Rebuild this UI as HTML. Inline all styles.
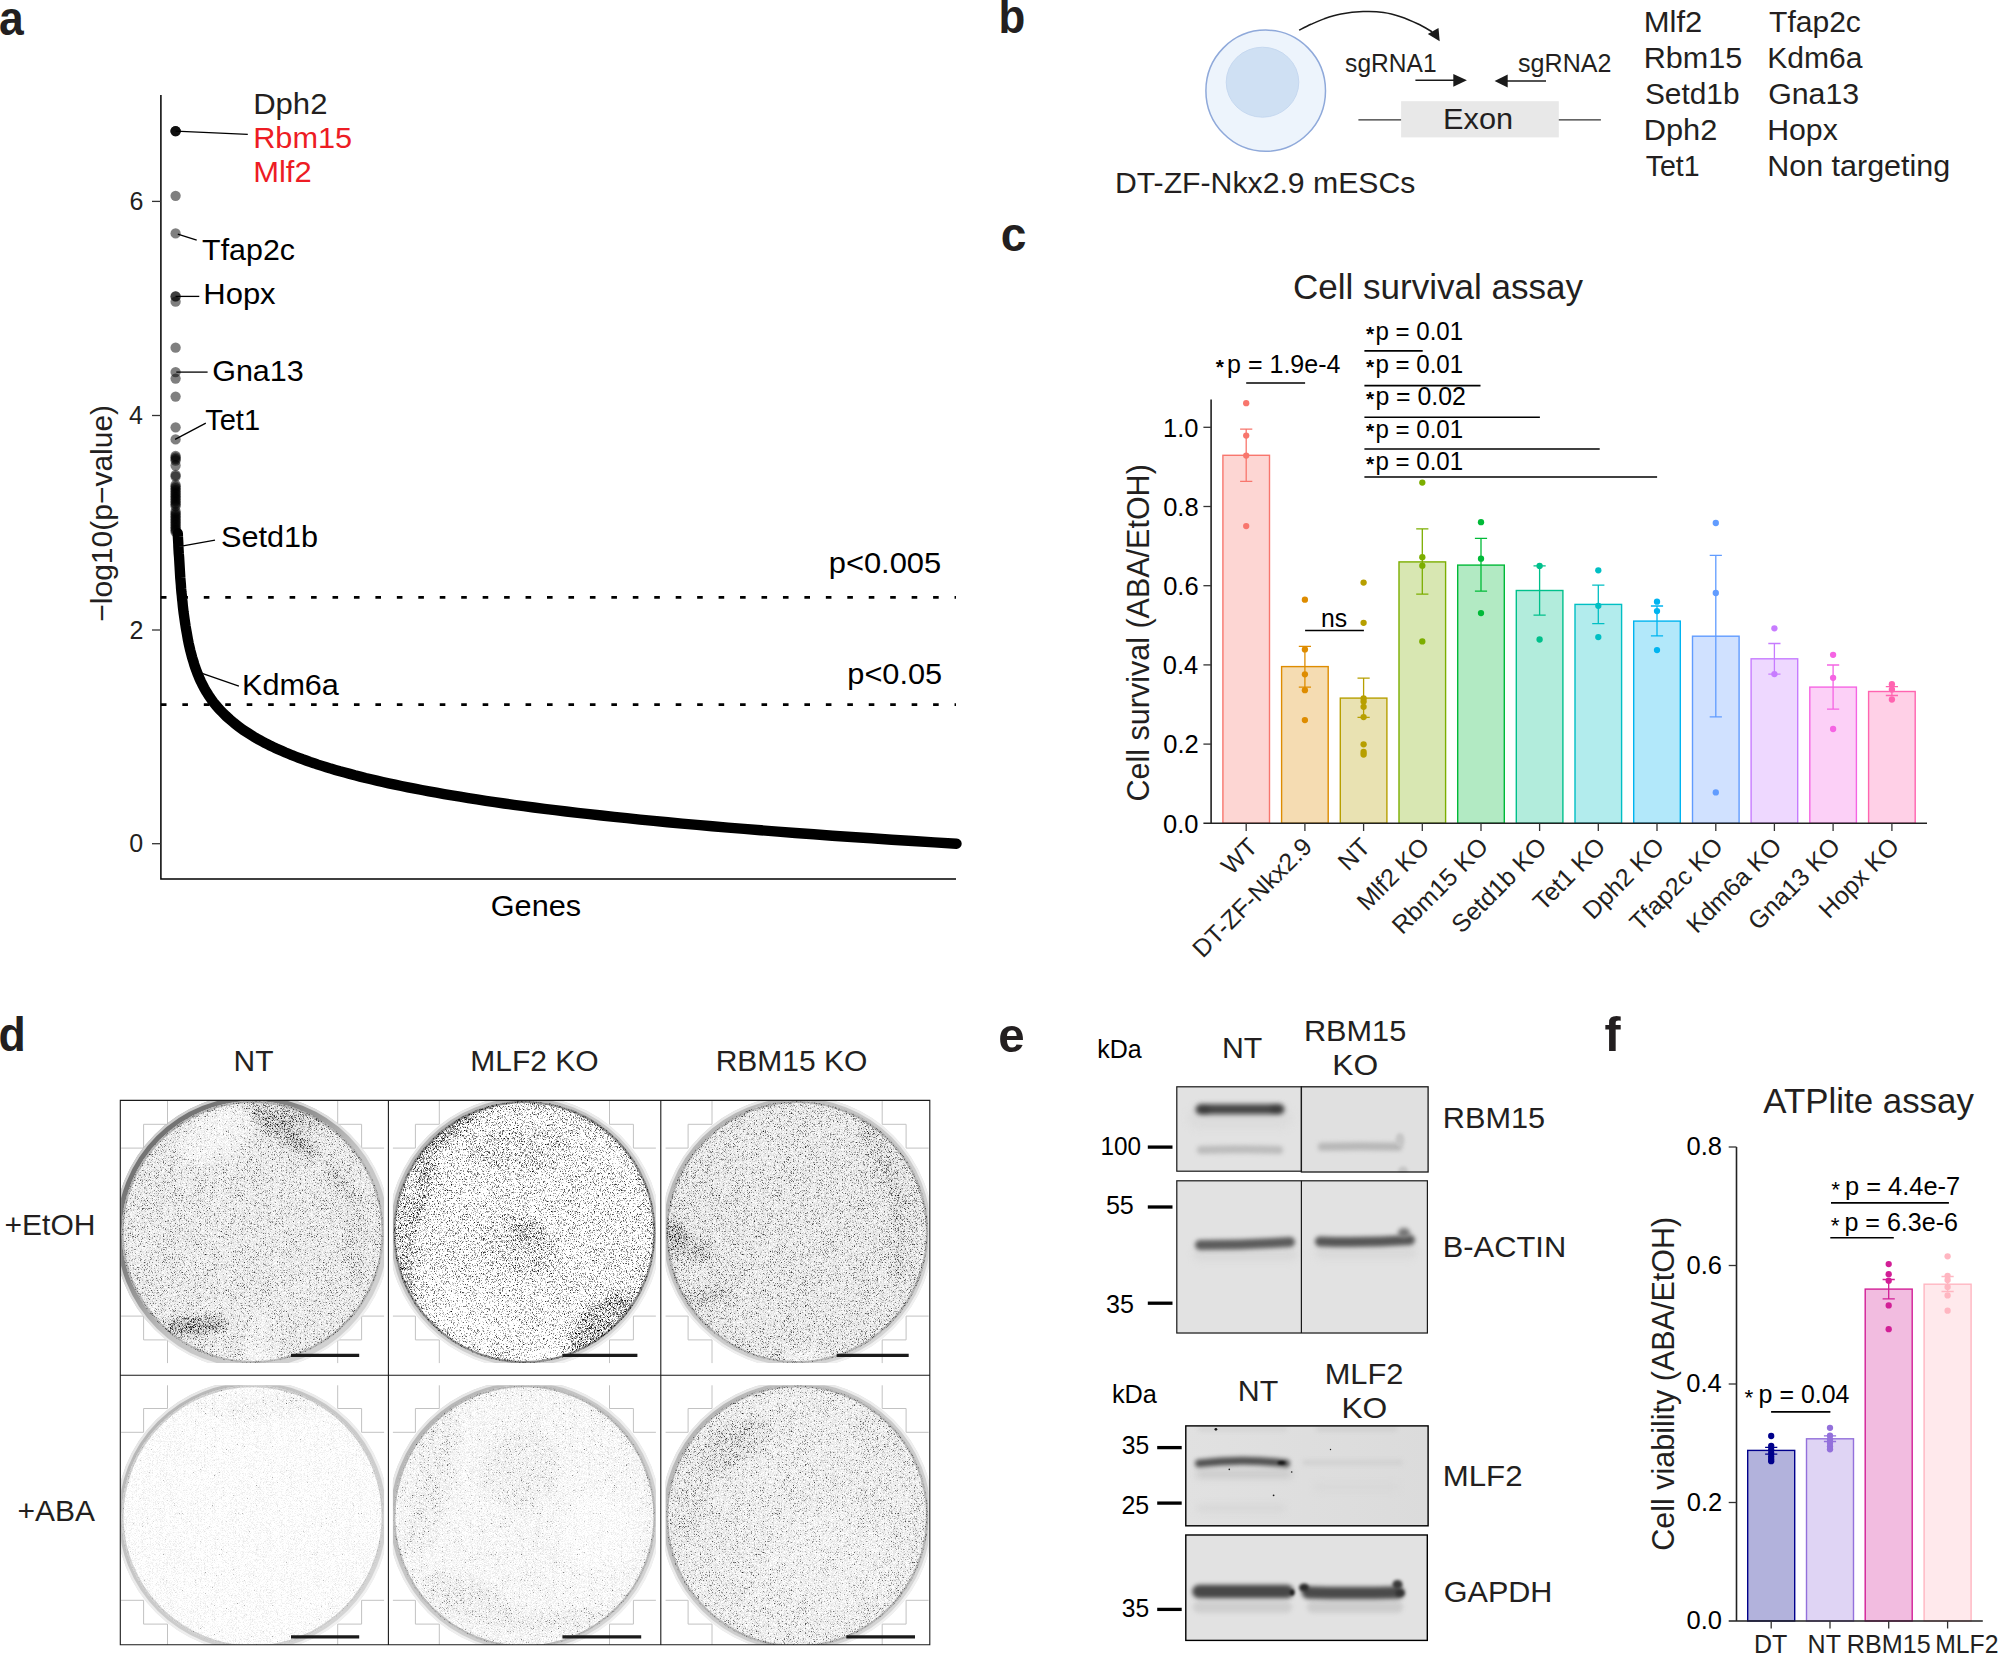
<!DOCTYPE html>
<html><head><meta charset="utf-8"><title>Figure</title>
<style>
html,body{margin:0;padding:0;background:#fff;}
svg{display:block;font-family:"Liberation Sans",sans-serif;}
</style></head>
<body>
<svg width="1999" height="1654" viewBox="0 0 1999 1654">
<defs>
<filter id="speckA" filterUnits="userSpaceOnUse" x="110" y="1090" width="830" height="564" color-interpolation-filters="sRGB">
<feGaussianBlur in="SourceGraphic" stdDeviation="4.5" result="d0"/>
<feColorMatrix type="matrix" values="0 0 0 0 0  0 0 0 0 0  0 0 0 0 0  1 0 0 0 0" in="d0" result="d"/>
<feTurbulence type="fractalNoise" baseFrequency="2.71 2.37" numOctaves="1" seed="7" result="t"/>
<feColorMatrix type="matrix" values="0 0 0 0 0  0 0 0 0 0  0 0 0 0 0  1 0 0 0 0" in="t" result="n"/>
<feComposite in="n" in2="d" operator="arithmetic" k1="0" k2="0.35" k3="0.35" k4="-0.28" result="a1"/>
<feTurbulence type="fractalNoise" baseFrequency="1.43 1.61" numOctaves="1" seed="23" result="t2"/>
<feColorMatrix in="t2" type="matrix" values="0 0 0 0 0  0 0 0 0 0  0 0 0 0 0  0 1 0 0 0" result="n2"/>
<feComposite in="n2" in2="d" operator="arithmetic" k1="0" k2="3" k3="3" k4="-3.15" result="a2"/>
<feComposite in="a1" in2="a2" operator="arithmetic" k1="0" k2="1" k3="1" k4="0"/>
</filter>
<filter id="speckB" filterUnits="userSpaceOnUse" x="110" y="1090" width="830" height="564" color-interpolation-filters="sRGB">
<feGaussianBlur in="SourceGraphic" stdDeviation="4.5" result="d0"/>
<feColorMatrix type="matrix" values="0 0 0 0 0  0 0 0 0 0  0 0 0 0 0  1 0 0 0 0" in="d0" result="d"/>
<feTurbulence type="fractalNoise" baseFrequency="1.47 1.63" numOctaves="1" seed="11" result="t"/>
<feColorMatrix type="matrix" values="0 0 0 0 0  0 0 0 0 0  0 0 0 0 0  1 0 0 0 0" in="t" result="n"/>
<feComposite in="n" in2="d" operator="arithmetic" k1="0" k2="3.5" k3="3.5" k4="-3.6"/>
</filter>
<filter id="rimblur" x="-5%" y="-5%" width="110%" height="110%"><feGaussianBlur stdDeviation="0.7"/></filter>
<linearGradient id="rimA" x1="0.1" y1="0.1" x2="0.9" y2="0.9"><stop offset="0" stop-color="#6e6e6e"/><stop offset="0.3" stop-color="#858585"/><stop offset="0.55" stop-color="#c4c4c4"/><stop offset="1" stop-color="#d4d4d4"/></linearGradient>
<linearGradient id="rimB" x1="0.1" y1="0.1" x2="0.9" y2="0.9"><stop offset="0" stop-color="#b4b4b4"/><stop offset="0.4" stop-color="#c8c8c8"/><stop offset="1" stop-color="#d6d6d6"/></linearGradient>
<filter id="b05" filterUnits="userSpaceOnUse" x="1150" y="1060" width="300" height="594" color-interpolation-filters="sRGB"><feGaussianBlur stdDeviation="0.5"/></filter>
<filter id="b1" filterUnits="userSpaceOnUse" x="1150" y="1060" width="300" height="594" color-interpolation-filters="sRGB"><feGaussianBlur stdDeviation="1.0"/></filter>
<filter id="b15" filterUnits="userSpaceOnUse" x="1150" y="1060" width="300" height="594" color-interpolation-filters="sRGB"><feGaussianBlur stdDeviation="1.5"/></filter>
<filter id="b2" filterUnits="userSpaceOnUse" x="1150" y="1060" width="300" height="594" color-interpolation-filters="sRGB"><feGaussianBlur stdDeviation="2.0"/></filter>
<filter id="b25" filterUnits="userSpaceOnUse" x="1150" y="1060" width="300" height="594" color-interpolation-filters="sRGB"><feGaussianBlur stdDeviation="2.6"/></filter>
<filter id="b3" filterUnits="userSpaceOnUse" x="1150" y="1060" width="300" height="594" color-interpolation-filters="sRGB"><feGaussianBlur stdDeviation="3.5"/></filter>

</defs>
<rect width="1999" height="1654" fill="#fff"/>
<g id="panel_a">
<text transform="translate(0.30,34.50) translate(-1.30,0) scale(0.9146,1)" font-size="48.6" font-weight="bold" fill="#231f20">a</text>
<path d="M160.9,95 V879.1 H956" fill="none" stroke="#000" stroke-width="1.5"/>
<line x1="152" x2="160.9" y1="201.4" y2="201.4" stroke="#333" stroke-width="1.3"/>
<text transform="translate(142.20,210.00) translate(-12.81,0)" font-size="25" fill="#231f20">6</text>
<line x1="152" x2="160.9" y1="415.5" y2="415.5" stroke="#333" stroke-width="1.3"/>
<text transform="translate(142.20,424.10) translate(-13.17,0)" font-size="25" fill="#231f20">4</text>
<line x1="152" x2="160.9" y1="630" y2="630" stroke="#333" stroke-width="1.3"/>
<text transform="translate(142.20,638.60) translate(-12.65,0)" font-size="25" fill="#231f20">2</text>
<line x1="152" x2="160.9" y1="843.7" y2="843.7" stroke="#333" stroke-width="1.3"/>
<text transform="translate(142.20,852.30) translate(-12.93,0)" font-size="25" fill="#231f20">0</text>
<text transform="translate(112.10,513.50) rotate(-90) translate(-108.22,0)" font-size="30" fill="#231f20">−log10(p−value)</text>
<text transform="translate(492.30,915.70) translate(-1.54,0) scale(1.0222,1)" font-size="30" fill="#000">Genes</text>
<line x1="160.9" x2="956" y1="597.3" y2="597.3" stroke="#000" stroke-width="2.7" stroke-dasharray="5.6 15.85"/>
<line x1="160.9" x2="956" y1="704.7" y2="704.7" stroke="#000" stroke-width="2.7" stroke-dasharray="5.6 15.85"/>
<text transform="translate(940.00,573.40) translate(-111.29,0) scale(1.0303,1)" font-size="30" fill="#000">p&lt;0.005</text>
<text transform="translate(940.90,683.70) translate(-93.58,0) scale(1.0246,1)" font-size="30" fill="#000">p&lt;0.05</text>
<path d="M177.8,533.3 L177.9,536.7 L178.1,540.1 L178.3,543.6 L178.4,547.0 L178.6,550.5 L178.8,553.9 L179.1,557.4 L179.3,560.8 L179.5,564.3 L179.7,567.7 L179.9,571.2 L180.1,574.6 L180.3,578.1 L180.6,581.5 L180.9,585.0 L181.1,588.4 L181.4,591.9 L181.8,595.3 L182.1,598.8 L182.5,602.2 L182.8,605.6 L183.2,609.1 L183.6,612.5 L184.1,616.0 L184.6,619.4 L185.1,622.9 L185.6,626.3 L186.2,629.8 L186.8,633.2 L187.4,636.7 L188.0,640.1 L188.7,643.6 L189.5,647.0 L190.3,650.5 L191.2,653.9 L192.1,657.4 L193.2,660.8 L194.2,664.3 L195.3,667.7 L196.6,671.1 L197.9,674.6 L199.3,678.0 L200.9,681.5 L202.6,684.9 L204.4,688.4 L206.4,691.8 L208.6,695.3 L210.9,698.7 L213.4,702.2 L216.2,705.6 L219.2,709.1 L222.5,712.5 L226.0,716.0 L229.8,719.4 L233.9,722.9 L238.3,726.3 L243.0,729.8 L248.2,733.2 L253.7,736.7 L255.5,737.7 L257.8,739.1 L260.3,740.4 L262.7,741.7 L265.3,743.1 L267.9,744.4 L270.6,745.8 L273.4,747.1 L276.3,748.5 L279.2,749.8 L282.2,751.1 L285.4,752.5 L288.6,753.8 L291.9,755.2 L295.3,756.5 L298.8,757.8 L302.4,759.2 L306.1,760.5 L309.9,761.9 L313.9,763.2 L317.9,764.6 L322.1,765.9 L326.4,767.2 L330.8,768.6 L335.3,769.9 L340.0,771.3 L344.8,772.6 L349.8,773.9 L354.9,775.3 L360.1,776.6 L365.5,778.0 L371.1,779.3 L376.8,780.6 L382.7,782.0 L388.7,783.3 L395.0,784.7 L401.4,786.0 L408.0,787.4 L414.8,788.7 L421.8,790.0 L429.0,791.4 L436.5,792.7 L444.1,794.1 L451.9,795.4 L460.0,796.7 L468.4,798.1 L476.9,799.4 L485.8,800.8 L494.8,802.1 L504.2,803.5 L513.8,804.8 L523.7,806.1 L533.9,807.5 L544.4,808.8 L555.2,810.2 L566.3,811.5 L577.7,812.8 L589.5,814.2 L601.6,815.5 L614.1,816.9 L626.9,818.2 L640.1,819.6 L653.7,820.9 L667.7,822.2 L682.1,823.6 L697.0,824.9 L712.2,826.3 L728.0,827.6 L744.1,828.9 L760.8,830.3 L777.9,831.6 L795.5,833.0 L813.7,834.3 L832.4,835.7 L851.6,837.0 L871.4,838.3 L891.7,839.7 L912.7,841.0 L934.3,842.4 L956.5,843.7" fill="none" stroke="#000" stroke-width="10.4" stroke-linecap="round" stroke-linejoin="round"/>
<g fill="#000" fill-opacity="0.5">
<circle cx="175.6" cy="131.1" r="5.15"/>
<circle cx="175.6" cy="131.1" r="5.15"/>
<circle cx="175.6" cy="131.1" r="5.15"/>
<circle cx="175.6" cy="296.4" r="5.15"/>
<circle cx="175.6" cy="131.1" r="5.15"/>
<circle cx="175.6" cy="195.8" r="5.15"/>
<circle cx="175.6" cy="233.4" r="5.15"/>
<circle cx="175.6" cy="296.4" r="5.15"/>
<circle cx="175.6" cy="301.7" r="5.15"/>
<circle cx="175.6" cy="347.7" r="5.15"/>
<circle cx="175.6" cy="372.1" r="5.15"/>
<circle cx="175.6" cy="378.6" r="5.15"/>
<circle cx="175.6" cy="396.6" r="5.15"/>
<circle cx="175.6" cy="427.3" r="5.15"/>
<circle cx="175.6" cy="439.4" r="5.15"/>
<circle cx="175.6" cy="456.0" r="5.15"/>
<circle cx="175.6" cy="457.5" r="5.15"/>
<circle cx="175.6" cy="459.0" r="5.15"/>
<circle cx="175.6" cy="460.5" r="5.15"/>
<circle cx="175.6" cy="465.5" r="5.15"/>
<circle cx="175.6" cy="475.0" r="5.15"/>
<circle cx="175.6" cy="476.5" r="5.15"/>
<circle cx="175.6" cy="485.0" r="5.15"/>
<circle cx="175.6" cy="486.6" r="5.15"/>
<circle cx="175.6" cy="488.2" r="5.15"/>
<circle cx="175.6" cy="489.8" r="5.15"/>
<circle cx="175.6" cy="491.5" r="5.15"/>
<circle cx="175.6" cy="493.1" r="5.15"/>
<circle cx="175.6" cy="494.7" r="5.15"/>
<circle cx="175.6" cy="496.3" r="5.15"/>
<circle cx="175.6" cy="497.9" r="5.15"/>
<circle cx="175.6" cy="499.5" r="5.15"/>
<circle cx="175.6" cy="501.2" r="5.15"/>
<circle cx="175.6" cy="502.8" r="5.15"/>
<circle cx="175.6" cy="504.4" r="5.15"/>
<circle cx="175.6" cy="506.0" r="5.15"/>
<circle cx="175.6" cy="511.5" r="5.15"/>
<circle cx="175.6" cy="513.1" r="5.15"/>
<circle cx="175.6" cy="514.7" r="5.15"/>
<circle cx="175.6" cy="516.2" r="5.15"/>
<circle cx="175.6" cy="517.8" r="5.15"/>
<circle cx="175.6" cy="519.4" r="5.15"/>
<circle cx="175.6" cy="521.0" r="5.15"/>
<circle cx="175.6" cy="522.5" r="5.15"/>
<circle cx="175.6" cy="524.1" r="5.15"/>
<circle cx="175.6" cy="525.7" r="5.15"/>
<circle cx="175.6" cy="527.3" r="5.15"/>
<circle cx="175.6" cy="528.8" r="5.15"/>
<circle cx="175.6" cy="530.4" r="5.15"/>
<circle cx="175.6" cy="532.0" r="5.15"/>
</g>
<line x1="175.6" y1="131.1" x2="247.8" y2="134.4" stroke="#000" stroke-width="1.3"/>
<line x1="177.8" y1="234.2" x2="196.7" y2="240.2" stroke="#000" stroke-width="1.3"/>
<line x1="175.6" y1="296.4" x2="199.3" y2="296.4" stroke="#000" stroke-width="1.3"/>
<line x1="176.3" y1="372.1" x2="207.6" y2="372.1" stroke="#000" stroke-width="1.3"/>
<line x1="175.1" y1="439.4" x2="205.8" y2="423.1" stroke="#000" stroke-width="1.3"/>
<line x1="181.6" y1="546.2" x2="215.0" y2="540.2" stroke="#000" stroke-width="1.3"/>
<line x1="202.1" y1="673.3" x2="238.9" y2="686.1" stroke="#000" stroke-width="1.3"/>
<text transform="translate(255.70,113.50) translate(-2.55,0) scale(1.0362,1)" font-size="30" fill="#231f20">Dph2</text>
<text transform="translate(255.70,148.00) translate(-2.52,0) scale(1.0238,1)" font-size="30" fill="#ed1c24">Rbm15</text>
<text transform="translate(255.70,182.00) translate(-2.54,0) scale(1.0322,1)" font-size="30" fill="#ed1c24">Mlf2</text>
<text transform="translate(202.80,259.80) translate(-0.68,0) scale(1.0127,1)" font-size="30" fill="#000">Tfap2c</text>
<text transform="translate(205.80,304.40) translate(-2.54,0) scale(1.0334,1)" font-size="30" fill="#000">Hopx</text>
<text transform="translate(213.70,380.50) translate(-1.54,0) scale(1.0178,1)" font-size="30" fill="#000">Gna13</text>
<text transform="translate(205.80,430.30) translate(-0.65,0) scale(0.9695,1)" font-size="30" fill="#000">Tet1</text>
<text transform="translate(222.40,546.70) translate(-1.39,0) scale(1.0220,1)" font-size="30" fill="#000">Setd1b</text>
<text transform="translate(244.50,694.90) translate(-2.51,0) scale(1.0195,1)" font-size="30" fill="#000">Kdm6a</text>
</g>
<g id="panel_b">
<text transform="translate(1001.40,32.50) translate(-2.89,0) scale(0.9024,1)" font-size="48.6" font-weight="bold" fill="#231f20">b</text>
<ellipse cx="1265.7" cy="90.7" rx="59.8" ry="60.6" fill="#edf4fc" stroke="#8fa9da" stroke-width="1.5"/>
<ellipse cx="1262.5" cy="82.2" rx="36.3" ry="35.0" fill="#cfe0f3" stroke="#c3d6ee" stroke-width="0.9"/>
<path d="M1299.10,30.10 C1301.08,29.13 1306.85,26.17 1311.00,24.30 C1315.15,22.43 1319.00,20.60 1324.00,18.90 C1329.00,17.20 1334.48,15.32 1341.00,14.10 C1347.52,12.88 1356.00,11.88 1363.10,11.60 C1370.20,11.32 1377.35,11.55 1383.60,12.40 C1389.85,13.25 1394.93,14.80 1400.60,16.70 C1406.27,18.60 1412.33,21.28 1417.60,23.80 C1422.87,26.32 1429.77,30.47 1432.20,31.80" fill="none" stroke="#1a1a1a" stroke-width="1.5"/>
<path d="M1439.7,41.3 L1427.8,34 L1438.5,28.1 Z" fill="#1a1a1a"/>
<path d="M1415.4,80.3 H1455" fill="none" stroke="#1a1a1a" stroke-width="1.5"/>
<path d="M1466.9,80.3 L1453.3,73.9 V86.7 Z" fill="#1a1a1a"/>
<path d="M1546,81 H1506" fill="none" stroke="#1a1a1a" stroke-width="1.5"/>
<path d="M1494.6,81 L1507.7,74.6 V87.4 Z" fill="#1a1a1a"/>
<text transform="translate(1345.80,71.95) translate(-0.68,0) scale(0.9827,1)" font-size="25" fill="#231f20">sgRNA1</text>
<text transform="translate(1518.80,72.00) translate(-0.70,0) scale(1.0018,1)" font-size="25" fill="#231f20">sgRNA2</text>
<rect x="1401.1" y="101.2" width="157.7" height="36.2" fill="#e8e8e8"/>
<path d="M1358.4,119.9 H1401.1 M1558.8,119.9 H1600.9" stroke="#333" stroke-width="1.4" fill="none"/>
<text transform="translate(1445.60,129.30) translate(-2.52,0) scale(1.0239,1)" font-size="30" fill="#231f20">Exon</text>
<text transform="translate(1117.50,192.80) translate(-2.48,0) scale(1.0071,1)" font-size="30" fill="#231f20">DT-ZF-Nkx2.9 mESCs</text>
<text transform="translate(1646.30,31.90) translate(-2.54,0) scale(1.0340,1)" font-size="30" fill="#231f20">Mlf2</text>
<text transform="translate(1646.30,67.90) translate(-2.51,0) scale(1.0195,1)" font-size="30" fill="#231f20">Rbm15</text>
<text transform="translate(1646.30,103.80) translate(-1.36,0) scale(0.9950,1)" font-size="30" fill="#231f20">Setd1b</text>
<text transform="translate(1646.30,139.70) translate(-2.52,0) scale(1.0258,1)" font-size="30" fill="#231f20">Dph2</text>
<text transform="translate(1646.30,175.60) translate(-0.64,0) scale(0.9511,1)" font-size="30" fill="#231f20">Tet1</text>
<text transform="translate(1769.70,31.90) translate(-0.67,0) scale(1.0017,1)" font-size="30" fill="#231f20">Tfap2c</text>
<text transform="translate(1769.70,67.90) translate(-2.47,0) scale(1.0022,1)" font-size="30" fill="#231f20">Kdm6a</text>
<text transform="translate(1769.70,103.80) translate(-1.53,0) scale(1.0109,1)" font-size="30" fill="#231f20">Gna13</text>
<text transform="translate(1769.70,139.70) translate(-2.48,0) scale(1.0082,1)" font-size="30" fill="#231f20">Hopx</text>
<text transform="translate(1769.70,175.60) translate(-2.50,0) scale(1.0164,1)" font-size="30" fill="#231f20">Non targeting</text>
</g>
<g id="panel_c">
<text transform="translate(1002.50,251.30) translate(-1.80,0) scale(0.9491,1)" font-size="48.6" font-weight="bold" fill="#231f20">c</text>
<text transform="translate(1294.70,298.50) translate(-1.78,0) scale(1.0012,1)" font-size="35" fill="#231f20">Cell survival assay</text>
<rect x="1222.9" y="455.3" width="46.6" height="368.0" fill="#fdd6d3" stroke="#F8766D" stroke-width="1.4"/>
<path d="M1246.2,429.2 V481.3 M1240.1,429.2 h12.2 M1240.1,481.3 h12.2" stroke="#F8766D" stroke-width="1.3" fill="none"/>
<circle cx="1246.2" cy="403.2" r="3.15" fill="#F8766D"/>
<circle cx="1246.2" cy="435.6" r="3.15" fill="#F8766D"/>
<circle cx="1246.2" cy="455.6" r="3.15" fill="#F8766D"/>
<circle cx="1246.2" cy="526.1" r="3.15" fill="#F8766D"/>
<rect x="1281.6" y="666.6" width="46.6" height="156.7" fill="#f5dcb2" stroke="#DE8C00" stroke-width="1.4"/>
<path d="M1304.9,646.4 V687.2 M1298.8,646.4 h12.2 M1298.8,687.2 h12.2" stroke="#DE8C00" stroke-width="1.3" fill="none"/>
<circle cx="1304.9" cy="599.7" r="3.15" fill="#DE8C00"/>
<circle cx="1304.9" cy="649.4" r="3.15" fill="#DE8C00"/>
<circle cx="1304.9" cy="674.3" r="3.15" fill="#DE8C00"/>
<circle cx="1304.9" cy="690.2" r="3.15" fill="#DE8C00"/>
<circle cx="1304.9" cy="720.1" r="3.15" fill="#DE8C00"/>
<rect x="1340.3" y="698.1" width="46.6" height="125.2" fill="#e9e2b2" stroke="#B79F00" stroke-width="1.4"/>
<path d="M1363.6,678.1 V717.4 M1357.5,678.1 h12.2 M1357.5,717.4 h12.2" stroke="#B79F00" stroke-width="1.3" fill="none"/>
<circle cx="1363.6" cy="582.6" r="3.15" fill="#B79F00"/>
<circle cx="1363.6" cy="622.8" r="3.15" fill="#B79F00"/>
<circle cx="1363.6" cy="698.5" r="3.15" fill="#B79F00"/>
<circle cx="1363.6" cy="701.6" r="3.15" fill="#B79F00"/>
<circle cx="1363.6" cy="706.8" r="3.15" fill="#B79F00"/>
<circle cx="1363.6" cy="717.1" r="3.15" fill="#B79F00"/>
<circle cx="1363.6" cy="744.3" r="3.15" fill="#B79F00"/>
<circle cx="1363.6" cy="751.9" r="3.15" fill="#B79F00"/>
<circle cx="1363.6" cy="754.5" r="3.15" fill="#B79F00"/>
<rect x="1399.0" y="561.9" width="46.6" height="261.4" fill="#d8e7b2" stroke="#7CAE00" stroke-width="1.4"/>
<path d="M1422.3,528.9 V594.2 M1416.2,528.9 h12.2 M1416.2,594.2 h12.2" stroke="#7CAE00" stroke-width="1.3" fill="none"/>
<circle cx="1422.3" cy="482.6" r="3.15" fill="#7CAE00"/>
<circle cx="1422.3" cy="557.2" r="3.15" fill="#7CAE00"/>
<circle cx="1422.3" cy="565.7" r="3.15" fill="#7CAE00"/>
<circle cx="1422.3" cy="641.4" r="3.15" fill="#7CAE00"/>
<rect x="1457.7" y="565.1" width="46.6" height="258.2" fill="#b2eac3" stroke="#00BA38" stroke-width="1.4"/>
<path d="M1481.0,538.3 V591.1 M1474.9,538.3 h12.2 M1474.9,591.1 h12.2" stroke="#00BA38" stroke-width="1.3" fill="none"/>
<circle cx="1481.0" cy="522.2" r="3.15" fill="#00BA38"/>
<circle cx="1481.0" cy="558.7" r="3.15" fill="#00BA38"/>
<circle cx="1481.0" cy="613.1" r="3.15" fill="#00BA38"/>
<rect x="1516.3" y="590.5" width="46.6" height="232.8" fill="#b2ecdc" stroke="#00C08B" stroke-width="1.4"/>
<path d="M1539.6,565.9 V615.2 M1533.5,565.9 h12.2 M1533.5,615.2 h12.2" stroke="#00C08B" stroke-width="1.3" fill="none"/>
<circle cx="1539.6" cy="565.9" r="3.15" fill="#00C08B"/>
<circle cx="1539.6" cy="639.5" r="3.15" fill="#00C08B"/>
<rect x="1575.0" y="604.4" width="46.6" height="218.9" fill="#b2eced" stroke="#00BFC4" stroke-width="1.4"/>
<path d="M1598.3,585.1 V623.6 M1592.2,585.1 h12.2 M1592.2,623.6 h12.2" stroke="#00BFC4" stroke-width="1.3" fill="none"/>
<circle cx="1598.3" cy="570.3" r="3.15" fill="#00BFC4"/>
<circle cx="1598.3" cy="605.8" r="3.15" fill="#00BFC4"/>
<circle cx="1598.3" cy="637.1" r="3.15" fill="#00BFC4"/>
<rect x="1633.7" y="621.1" width="46.6" height="202.2" fill="#b2e8fa" stroke="#00B4F0" stroke-width="1.4"/>
<path d="M1657.0,606.0 V635.9 M1650.9,606.0 h12.2 M1650.9,635.9 h12.2" stroke="#00B4F0" stroke-width="1.3" fill="none"/>
<circle cx="1657.0" cy="601.7" r="3.15" fill="#00B4F0"/>
<circle cx="1657.0" cy="611.1" r="3.15" fill="#00B4F0"/>
<circle cx="1657.0" cy="650.1" r="3.15" fill="#00B4F0"/>
<rect x="1692.5" y="636.2" width="46.6" height="187.1" fill="#d0e1ff" stroke="#619CFF" stroke-width="1.4"/>
<path d="M1715.8,555.3 V716.9 M1709.7,555.3 h12.2 M1709.7,716.9 h12.2" stroke="#619CFF" stroke-width="1.3" fill="none"/>
<circle cx="1715.8" cy="523.0" r="3.15" fill="#619CFF"/>
<circle cx="1715.8" cy="593.0" r="3.15" fill="#619CFF"/>
<circle cx="1715.8" cy="792.4" r="3.15" fill="#619CFF"/>
<rect x="1751.1" y="658.8" width="46.6" height="164.5" fill="#eed8ff" stroke="#C77CFF" stroke-width="1.4"/>
<path d="M1774.4,643.5 V674.1 M1768.3,643.5 h12.2 M1768.3,674.1 h12.2" stroke="#C77CFF" stroke-width="1.3" fill="none"/>
<circle cx="1774.4" cy="628.3" r="3.15" fill="#C77CFF"/>
<circle cx="1774.4" cy="674.1" r="3.15" fill="#C77CFF"/>
<rect x="1809.8" y="687.1" width="46.6" height="136.2" fill="#fcd0f7" stroke="#F564E3" stroke-width="1.4"/>
<path d="M1833.1,665.0 V709.2 M1827.0,665.0 h12.2 M1827.0,709.2 h12.2" stroke="#F564E3" stroke-width="1.3" fill="none"/>
<circle cx="1833.1" cy="654.8" r="3.15" fill="#F564E3"/>
<circle cx="1833.1" cy="677.8" r="3.15" fill="#F564E3"/>
<circle cx="1833.1" cy="729.0" r="3.15" fill="#F564E3"/>
<rect x="1868.6" y="691.5" width="46.6" height="131.8" fill="#ffd0e7" stroke="#FF64B0" stroke-width="1.4"/>
<path d="M1891.9,686.7 V695.5 M1885.8,686.7 h12.2 M1885.8,695.5 h12.2" stroke="#FF64B0" stroke-width="1.3" fill="none"/>
<circle cx="1891.9" cy="684.2" r="3.15" fill="#FF64B0"/>
<circle cx="1891.9" cy="689.4" r="3.15" fill="#FF64B0"/>
<circle cx="1891.9" cy="699.5" r="3.15" fill="#FF64B0"/>
<path d="M1211.1,399.5 V823.3 M1203.4,823.3 H1927" fill="none" stroke="#222" stroke-width="1.6"/>
<text transform="translate(1197.50,832.60) translate(-34.45,0)" font-size="25.5" fill="#000">0.0</text>
<line x1="1203.4" x2="1211.1" y1="744.1" y2="744.1" stroke="#333" stroke-width="1.3"/>
<text transform="translate(1197.50,753.40) translate(-34.17,0)" font-size="25.5" fill="#000">0.2</text>
<line x1="1203.4" x2="1211.1" y1="664.9" y2="664.9" stroke="#333" stroke-width="1.3"/>
<text transform="translate(1197.50,674.20) translate(-34.70,0)" font-size="25.5" fill="#000">0.4</text>
<line x1="1203.4" x2="1211.1" y1="585.7" y2="585.7" stroke="#333" stroke-width="1.3"/>
<text transform="translate(1197.50,595.00) translate(-34.33,0)" font-size="25.5" fill="#000">0.6</text>
<line x1="1203.4" x2="1211.1" y1="506.5" y2="506.5" stroke="#333" stroke-width="1.3"/>
<text transform="translate(1197.50,515.80) translate(-34.34,0)" font-size="25.5" fill="#000">0.8</text>
<line x1="1203.4" x2="1211.1" y1="427.3" y2="427.3" stroke="#333" stroke-width="1.3"/>
<text transform="translate(1197.50,436.60) translate(-34.45,0)" font-size="25.5" fill="#000">1.0</text>
<line x1="1246.2" x2="1246.2" y1="823.3" y2="831" stroke="#333" stroke-width="1.3"/>
<text transform="translate(1258.70,848.90) rotate(-45) translate(-38.29,0)" font-size="25" fill="#231f20">WT</text>
<line x1="1304.9" x2="1304.9" y1="823.3" y2="831" stroke="#333" stroke-width="1.3"/>
<text transform="translate(1312.80,848.90) rotate(-45) translate(-155.76,0)" font-size="25" fill="#231f20">DT-ZF-Nkx2.9</text>
<line x1="1363.6" x2="1363.6" y1="823.3" y2="831" stroke="#333" stroke-width="1.3"/>
<text transform="translate(1371.50,848.90) rotate(-45) translate(-32.75,0)" font-size="25" fill="#231f20">NT</text>
<line x1="1422.3" x2="1422.3" y1="823.3" y2="831" stroke="#333" stroke-width="1.3"/>
<text transform="translate(1430.20,848.90) rotate(-45) translate(-89.10,0)" font-size="25" fill="#231f20">Mlf2 KO</text>
<line x1="1481.0" x2="1481.0" y1="823.3" y2="831" stroke="#333" stroke-width="1.3"/>
<text transform="translate(1488.90,848.90) rotate(-45) translate(-122.46,0)" font-size="25" fill="#231f20">Rbm15 KO</text>
<line x1="1539.6" x2="1539.6" y1="823.3" y2="831" stroke="#333" stroke-width="1.3"/>
<text transform="translate(1547.50,848.90) rotate(-45) translate(-121.11,0)" font-size="25" fill="#231f20">Setd1b KO</text>
<line x1="1598.3" x2="1598.3" y1="823.3" y2="831" stroke="#333" stroke-width="1.3"/>
<text transform="translate(1606.20,848.90) rotate(-45) translate(-89.12,0)" font-size="25" fill="#231f20">Tet1 KO</text>
<line x1="1657.0" x2="1657.0" y1="823.3" y2="831" stroke="#333" stroke-width="1.3"/>
<text transform="translate(1664.90,848.90) rotate(-45) translate(-101.64,0)" font-size="25" fill="#231f20">Dph2 KO</text>
<line x1="1715.8" x2="1715.8" y1="823.3" y2="831" stroke="#333" stroke-width="1.3"/>
<text transform="translate(1723.70,848.90) rotate(-45) translate(-118.30,0)" font-size="25" fill="#231f20">Tfap2c KO</text>
<line x1="1774.4" x2="1774.4" y1="823.3" y2="831" stroke="#333" stroke-width="1.3"/>
<text transform="translate(1782.30,848.90) rotate(-45) translate(-121.08,0)" font-size="25" fill="#231f20">Kdm6a KO</text>
<line x1="1833.1" x2="1833.1" y1="823.3" y2="831" stroke="#333" stroke-width="1.3"/>
<text transform="translate(1841.00,848.90) rotate(-45) translate(-116.93,0)" font-size="25" fill="#231f20">Gna13 KO</text>
<line x1="1891.9" x2="1891.9" y1="823.3" y2="831" stroke="#333" stroke-width="1.3"/>
<text transform="translate(1899.80,848.90) rotate(-45) translate(-100.23,0)" font-size="25" fill="#231f20">Hopx KO</text>
<text transform="translate(1149.40,633.00) rotate(-90) translate(-168.46,0)" font-size="30.5" fill="#231f20">Cell survival (ABA/EtOH)</text>
<text transform="translate(1215.70,373.63) translate(-0.06,0)" font-size="21.0" font-weight="bold" fill="#000">*</text>
<text transform="translate(1228.70,373.00) translate(-1.61,0) scale(1.0006,1)" font-size="25" fill="#000">p = 1.9e-4</text>
<line x1="1246.2" x2="1305.1" y1="383" y2="383" stroke="#000" stroke-width="1.6"/>
<text transform="translate(1366.00,340.73) translate(-0.06,0)" font-size="21.0" font-weight="bold" fill="#000">*</text>
<text transform="translate(1377.00,340.10) translate(-1.55,0) scale(0.9635,1)" font-size="25" fill="#000">p = 0.01</text>
<line x1="1364.4" x2="1422.7" y1="350.9" y2="350.9" stroke="#000" stroke-width="1.6"/>
<text transform="translate(1366.00,373.93) translate(-0.06,0)" font-size="21.0" font-weight="bold" fill="#000">*</text>
<text transform="translate(1377.00,373.30) translate(-1.55,0) scale(0.9635,1)" font-size="25" fill="#000">p = 0.01</text>
<line x1="1364.4" x2="1480.5" y1="385.6" y2="385.6" stroke="#000" stroke-width="1.6"/>
<text transform="translate(1366.00,405.93) translate(-0.06,0)" font-size="21.0" font-weight="bold" fill="#000">*</text>
<text transform="translate(1377.00,405.30) translate(-1.60,0) scale(0.9934,1)" font-size="25" fill="#000">p = 0.02</text>
<line x1="1364.4" x2="1539.9" y1="417.3" y2="417.3" stroke="#000" stroke-width="1.6"/>
<text transform="translate(1366.00,438.33) translate(-0.06,0)" font-size="21.0" font-weight="bold" fill="#000">*</text>
<text transform="translate(1377.00,437.70) translate(-1.55,0) scale(0.9635,1)" font-size="25" fill="#000">p = 0.01</text>
<line x1="1364.4" x2="1599.7" y1="449.0" y2="449.0" stroke="#000" stroke-width="1.6"/>
<text transform="translate(1366.00,470.63) translate(-0.06,0)" font-size="21.0" font-weight="bold" fill="#000">*</text>
<text transform="translate(1377.00,470.00) translate(-1.55,0) scale(0.9635,1)" font-size="25" fill="#000">p = 0.01</text>
<line x1="1364.4" x2="1657.1" y1="477.0" y2="477.0" stroke="#000" stroke-width="1.6"/>
<text transform="translate(1322.60,627.30) translate(-1.64,0) scale(0.9899,1)" font-size="25" fill="#000">ns</text>
<line x1="1305.1" x2="1363.9" y1="630.4" y2="630.4" stroke="#000" stroke-width="1.5"/>
</g>
<g id="panel_d">
<text transform="translate(0.30,1051.00) translate(-1.83,0) scale(0.9187,1)" font-size="48.6" font-weight="bold" fill="#231f20">d</text>
<clipPath id="w00c"><circle cx="252.6" cy="1232.1" r="131.0"/></clipPath>
<clipPath id="w00t"><path d="M167.5,1101.1 L337.7,1101.1 L337.7,1124.3 L361.6,1124.3 L361.6,1148.1 L384.1,1148.1 L384.1,1316.1 L361.6,1316.1 L361.6,1339.9 L337.7,1339.9 L337.7,1363.1 L167.5,1363.1 L167.5,1339.9 L143.6,1339.9 L143.6,1316.1 L121.1,1316.1 L121.1,1148.1 L143.6,1148.1 L143.6,1124.3 L167.5,1124.3 Z"/></clipPath>
<clipPath id="w00f"><rect x="120.3" y="1100.4" width="268.1" height="274.9"/></clipPath>
<g clip-path="url(#w00f)">
<path d="M167.5,1101.1 V1124.3 H143.6 V1148.1 H121.1 M167.5,1363.1 V1339.9 H143.6 V1316.1 H121.1 M337.7,1101.1 V1124.3 H361.6 V1148.1 H384.1 M337.7,1363.1 V1339.9 H361.6 V1316.1 H384.1" fill="none" stroke="#c2c2c2" stroke-width="1.0"/>
<g clip-path="url(#w00t)">
<circle cx="252.6" cy="1232.1" r="134.6" fill="none" stroke="url(#rimA)" stroke-width="7.2" filter="url(#rimblur)"/>
<circle cx="252.6" cy="1232.1" r="137.0" fill="none" stroke="#fff" stroke-opacity="0.65" stroke-width="2.4" filter="url(#rimblur)"/>
<circle cx="252.6" cy="1232.1" r="131.0" fill="#fff"/>
</g>
<g clip-path="url(#w00c)"><g clip-path="url(#w00t)"><g filter="url(#speckA)">
<rect x="100.3" y="1080.4" width="308.1" height="314.9" fill="rgb(122,122,122)"/>
<ellipse cx="215" cy="1135" rx="40" ry="22" transform="rotate(-30 215 1135)" fill="rgb(106,106,106)"/>
<ellipse cx="282" cy="1129" rx="44" ry="12" transform="rotate(40 282 1129)" fill="rgb(150,150,150)"/>
<ellipse cx="300" cy="1116" rx="30" ry="10" transform="rotate(20 300 1116)" fill="rgb(146,146,146)"/>
<ellipse cx="337" cy="1178" rx="26" ry="6" transform="rotate(58 337 1178)" fill="rgb(138,138,138)"/>
<ellipse cx="355" cy="1240" rx="10" ry="50" transform="rotate(0 355 1240)" fill="rgb(130,130,130)"/>
<ellipse cx="196" cy="1326" rx="33" ry="9" transform="rotate(-5 196 1326)" fill="rgb(160,160,160)"/>
<ellipse cx="258" cy="1335" rx="9" ry="28" transform="rotate(10 258 1335)" fill="rgb(106,106,106)"/>
<ellipse cx="262" cy="1358" rx="24" ry="5" transform="rotate(0 262 1358)" fill="rgb(83,83,83)"/>
<circle cx="252.6" cy="1232.1" r="129.5" fill="none" stroke="rgb(133,133,133)" stroke-opacity="0.8" stroke-width="5"/>
</g></g></g>
<g clip-path="url(#w00t)"><circle cx="252.6" cy="1232.1" r="130.1" fill="none" stroke="#222" stroke-opacity="0.28" stroke-width="2.2"/></g>
<line x1="291.0" x2="359.2" y1="1355.3" y2="1355.3" stroke="#1a1a1a" stroke-width="3.2"/>
</g>
<clipPath id="w01c"><circle cx="524.4" cy="1232.1" r="131.0"/></clipPath>
<clipPath id="w01t"><path d="M439.3,1101.1 L609.5,1101.1 L609.5,1124.3 L633.4,1124.3 L633.4,1148.1 L655.9,1148.1 L655.9,1316.1 L633.4,1316.1 L633.4,1339.9 L609.5,1339.9 L609.5,1363.1 L439.3,1363.1 L439.3,1339.9 L415.4,1339.9 L415.4,1316.1 L392.9,1316.1 L392.9,1148.1 L415.4,1148.1 L415.4,1124.3 L439.3,1124.3 Z"/></clipPath>
<clipPath id="w01f"><rect x="388.4" y="1100.4" width="272.4" height="274.9"/></clipPath>
<g clip-path="url(#w01f)">
<path d="M439.3,1101.1 V1124.3 H415.4 V1148.1 H392.9 M439.3,1363.1 V1339.9 H415.4 V1316.1 H392.9 M609.5,1101.1 V1124.3 H633.4 V1148.1 H655.9 M609.5,1363.1 V1339.9 H633.4 V1316.1 H655.9" fill="none" stroke="#c2c2c2" stroke-width="1.0"/>
<g clip-path="url(#w01t)">
<circle cx="524.4" cy="1232.1" r="133.7" fill="none" stroke="url(#rimB)" stroke-width="5.4" filter="url(#rimblur)"/>
<circle cx="524.4" cy="1232.1" r="135.2" fill="none" stroke="#fff" stroke-opacity="0.65" stroke-width="2.4" filter="url(#rimblur)"/>
<circle cx="524.4" cy="1232.1" r="131.0" fill="#fff"/>
</g>
<g clip-path="url(#w01c)"><g clip-path="url(#w01t)"><g filter="url(#speckB)">
<rect x="368.4" y="1080.4" width="312.4" height="314.9" fill="rgb(126,126,126)"/>
<ellipse cx="520" cy="1246" rx="40" ry="28" transform="rotate(30 520 1246)" fill="rgb(135,135,135)"/>
<ellipse cx="529" cy="1233" rx="15" ry="15" transform="rotate(0 529 1233)" fill="rgb(147,147,147)"/>
<ellipse cx="603" cy="1322" rx="40" ry="20" transform="rotate(-42 603 1322)" fill="rgb(151,151,151)"/>
<ellipse cx="452" cy="1128" rx="60" ry="8" transform="rotate(-40 452 1128)" fill="rgb(160,160,160)"/>
<ellipse cx="425" cy="1180" rx="7" ry="50" transform="rotate(12 425 1180)" fill="rgb(149,149,149)"/>
<ellipse cx="520" cy="1150" rx="50" ry="25" transform="rotate(0 520 1150)" fill="rgb(134,134,134)"/>
<ellipse cx="408" cy="1250" rx="8" ry="60" transform="rotate(0 408 1250)" fill="rgb(145,145,145)"/>
<ellipse cx="470" cy="1320" rx="40" ry="30" transform="rotate(0 470 1320)" fill="rgb(121,121,121)"/>
<ellipse cx="545" cy="1357" rx="30" ry="6" transform="rotate(0 545 1357)" fill="rgb(100,100,100)"/>
<circle cx="524.4" cy="1232.1" r="129.5" fill="none" stroke="rgb(153,153,153)" stroke-opacity="0.8" stroke-width="5"/>
</g></g></g>
<g clip-path="url(#w01t)"><circle cx="524.4" cy="1232.1" r="130.1" fill="none" stroke="#222" stroke-opacity="0.5" stroke-width="2.2"/></g>
<line x1="562.4" x2="637.4" y1="1355.4" y2="1355.4" stroke="#1a1a1a" stroke-width="3.2"/>
</g>
<clipPath id="w02c"><circle cx="797.1" cy="1232.1" r="131.0"/></clipPath>
<clipPath id="w02t"><path d="M712.0,1101.1 L882.2,1101.1 L882.2,1124.3 L906.1,1124.3 L906.1,1148.1 L928.6,1148.1 L928.6,1316.1 L906.1,1316.1 L906.1,1339.9 L882.2,1339.9 L882.2,1363.1 L712.0,1363.1 L712.0,1339.9 L688.1,1339.9 L688.1,1316.1 L665.6,1316.1 L665.6,1148.1 L688.1,1148.1 L688.1,1124.3 L712.0,1124.3 Z"/></clipPath>
<clipPath id="w02f"><rect x="660.8" y="1100.4" width="269.0" height="274.9"/></clipPath>
<g clip-path="url(#w02f)">
<path d="M712.0,1101.1 V1124.3 H688.1 V1148.1 H665.6 M712.0,1363.1 V1339.9 H688.1 V1316.1 H665.6 M882.2,1101.1 V1124.3 H906.1 V1148.1 H928.6 M882.2,1363.1 V1339.9 H906.1 V1316.1 H928.6" fill="none" stroke="#c2c2c2" stroke-width="1.0"/>
<g clip-path="url(#w02t)">
<circle cx="797.1" cy="1232.1" r="133.7" fill="none" stroke="url(#rimB)" stroke-width="5.4" filter="url(#rimblur)"/>
<circle cx="797.1" cy="1232.1" r="135.2" fill="none" stroke="#fff" stroke-opacity="0.65" stroke-width="2.4" filter="url(#rimblur)"/>
<circle cx="797.1" cy="1232.1" r="131.0" fill="#fff"/>
</g>
<g clip-path="url(#w02c)"><g clip-path="url(#w02t)"><g filter="url(#speckA)">
<rect x="640.8" y="1080.4" width="309.0" height="314.9" fill="rgb(125,125,125)"/>
<ellipse cx="690" cy="1248" rx="24" ry="12" transform="rotate(20 690 1248)" fill="rgb(142,142,142)"/>
<ellipse cx="674" cy="1238" rx="12" ry="20" transform="rotate(0 674 1238)" fill="rgb(155,155,155)"/>
<ellipse cx="708" cy="1297" rx="26" ry="8" transform="rotate(-15 708 1297)" fill="rgb(144,144,144)"/>
<ellipse cx="885" cy="1165" rx="12" ry="50" transform="rotate(-28 885 1165)" fill="rgb(136,136,136)"/>
<ellipse cx="900" cy="1230" rx="10" ry="50" transform="rotate(0 900 1230)" fill="rgb(136,136,136)"/>
<ellipse cx="700" cy="1340" rx="30" ry="12" transform="rotate(30 700 1340)" fill="rgb(116,116,116)"/>
<ellipse cx="810" cy="1358" rx="25" ry="5" transform="rotate(0 810 1358)" fill="rgb(90,90,90)"/>
<circle cx="797.1" cy="1232.1" r="129.5" fill="none" stroke="rgb(138,138,138)" stroke-opacity="0.8" stroke-width="5"/>
</g></g></g>
<g clip-path="url(#w02t)"><circle cx="797.1" cy="1232.1" r="130.1" fill="none" stroke="#222" stroke-opacity="0.28" stroke-width="2.2"/></g>
<line x1="836.7" x2="908.7" y1="1355.4" y2="1355.4" stroke="#1a1a1a" stroke-width="3.2"/>
</g>
<clipPath id="w10c"><circle cx="252.6" cy="1516.3" r="131.0"/></clipPath>
<clipPath id="w10t"><path d="M167.5,1385.3 L337.7,1385.3 L337.7,1408.5 L361.6,1408.5 L361.6,1432.3 L384.1,1432.3 L384.1,1600.3 L361.6,1600.3 L361.6,1624.1 L337.7,1624.1 L337.7,1647.3 L167.5,1647.3 L167.5,1624.1 L143.6,1624.1 L143.6,1600.3 L121.1,1600.3 L121.1,1432.3 L143.6,1432.3 L143.6,1408.5 L167.5,1408.5 Z"/></clipPath>
<clipPath id="w10f"><rect x="120.3" y="1375.3" width="268.1" height="269.5"/></clipPath>
<g clip-path="url(#w10f)">
<path d="M167.5,1385.3 V1408.5 H143.6 V1432.3 H121.1 M167.5,1647.3 V1624.1 H143.6 V1600.3 H121.1 M337.7,1385.3 V1408.5 H361.6 V1432.3 H384.1 M337.7,1647.3 V1624.1 H361.6 V1600.3 H384.1" fill="none" stroke="#c2c2c2" stroke-width="1.0"/>
<g clip-path="url(#w10t)">
<circle cx="252.6" cy="1516.3" r="133.7" fill="none" stroke="url(#rimB)" stroke-width="5.4" filter="url(#rimblur)"/>
<circle cx="252.6" cy="1516.3" r="135.2" fill="none" stroke="#fff" stroke-opacity="0.65" stroke-width="2.4" filter="url(#rimblur)"/>
<circle cx="252.6" cy="1516.3" r="131.0" fill="#fff"/>
</g>
<g clip-path="url(#w10c)"><g clip-path="url(#w10t)"><g filter="url(#speckA)">
<rect x="100.3" y="1355.3" width="308.1" height="309.5" fill="rgb(83,83,83)"/>
<ellipse cx="255" cy="1408" rx="60" ry="12" transform="rotate(0 255 1408)" fill="rgb(99,99,99)"/>
<ellipse cx="300" cy="1400" rx="30" ry="7" transform="rotate(10 300 1400)" fill="rgb(109,109,109)"/>
<circle cx="252.6" cy="1516.3" r="129.5" fill="none" stroke="rgb(95,95,95)" stroke-opacity="0.8" stroke-width="5"/>
</g></g></g>
<g clip-path="url(#w10t)"><circle cx="252.6" cy="1516.3" r="130.1" fill="none" stroke="#222" stroke-opacity="0.2" stroke-width="2.2"/></g>
<line x1="291.0" x2="359.2" y1="1636.9" y2="1636.9" stroke="#1a1a1a" stroke-width="3.2"/>
</g>
<clipPath id="w11c"><circle cx="524.4" cy="1516.3" r="131.0"/></clipPath>
<clipPath id="w11t"><path d="M439.3,1385.3 L609.5,1385.3 L609.5,1408.5 L633.4,1408.5 L633.4,1432.3 L655.9,1432.3 L655.9,1600.3 L633.4,1600.3 L633.4,1624.1 L609.5,1624.1 L609.5,1647.3 L439.3,1647.3 L439.3,1624.1 L415.4,1624.1 L415.4,1600.3 L392.9,1600.3 L392.9,1432.3 L415.4,1432.3 L415.4,1408.5 L439.3,1408.5 Z"/></clipPath>
<clipPath id="w11f"><rect x="388.4" y="1375.3" width="272.4" height="269.5"/></clipPath>
<g clip-path="url(#w11f)">
<path d="M439.3,1385.3 V1408.5 H415.4 V1432.3 H392.9 M439.3,1647.3 V1624.1 H415.4 V1600.3 H392.9 M609.5,1385.3 V1408.5 H633.4 V1432.3 H655.9 M609.5,1647.3 V1624.1 H633.4 V1600.3 H655.9" fill="none" stroke="#c2c2c2" stroke-width="1.0"/>
<g clip-path="url(#w11t)">
<circle cx="524.4" cy="1516.3" r="133.7" fill="none" stroke="url(#rimB)" stroke-width="5.4" filter="url(#rimblur)"/>
<circle cx="524.4" cy="1516.3" r="135.2" fill="none" stroke="#fff" stroke-opacity="0.65" stroke-width="2.4" filter="url(#rimblur)"/>
<circle cx="524.4" cy="1516.3" r="131.0" fill="#fff"/>
</g>
<g clip-path="url(#w11c)"><g clip-path="url(#w11t)"><g filter="url(#speckA)">
<rect x="368.4" y="1355.3" width="312.4" height="309.5" fill="rgb(97,97,97)"/>
<ellipse cx="432" cy="1480" rx="20" ry="80" transform="rotate(14 432 1480)" fill="rgb(111,111,111)"/>
<ellipse cx="470" cy="1600" rx="50" ry="20" transform="rotate(25 470 1600)" fill="rgb(114,114,114)"/>
<ellipse cx="520" cy="1470" rx="40" ry="40" transform="rotate(0 520 1470)" fill="rgb(109,109,109)"/>
<ellipse cx="560" cy="1620" rx="60" ry="10" transform="rotate(-5 560 1620)" fill="rgb(113,113,113)"/>
<ellipse cx="600" cy="1530" rx="40" ry="40" transform="rotate(0 600 1530)" fill="rgb(87,87,87)"/>
<circle cx="524.4" cy="1516.3" r="129.5" fill="none" stroke="rgb(123,123,123)" stroke-opacity="0.8" stroke-width="5"/>
</g></g></g>
<g clip-path="url(#w11t)"><circle cx="524.4" cy="1516.3" r="130.1" fill="none" stroke="#222" stroke-opacity="0.28" stroke-width="2.2"/></g>
<line x1="562.4" x2="641.2" y1="1636.9" y2="1636.9" stroke="#1a1a1a" stroke-width="3.2"/>
</g>
<clipPath id="w12c"><circle cx="797.1" cy="1516.3" r="131.0"/></clipPath>
<clipPath id="w12t"><path d="M712.0,1385.3 L882.2,1385.3 L882.2,1408.5 L906.1,1408.5 L906.1,1432.3 L928.6,1432.3 L928.6,1600.3 L906.1,1600.3 L906.1,1624.1 L882.2,1624.1 L882.2,1647.3 L712.0,1647.3 L712.0,1624.1 L688.1,1624.1 L688.1,1600.3 L665.6,1600.3 L665.6,1432.3 L688.1,1432.3 L688.1,1408.5 L712.0,1408.5 Z"/></clipPath>
<clipPath id="w12f"><rect x="660.8" y="1375.3" width="269.0" height="269.5"/></clipPath>
<g clip-path="url(#w12f)">
<path d="M712.0,1385.3 V1408.5 H688.1 V1432.3 H665.6 M712.0,1647.3 V1624.1 H688.1 V1600.3 H665.6 M882.2,1385.3 V1408.5 H906.1 V1432.3 H928.6 M882.2,1647.3 V1624.1 H906.1 V1600.3 H928.6" fill="none" stroke="#c2c2c2" stroke-width="1.0"/>
<g clip-path="url(#w12t)">
<circle cx="797.1" cy="1516.3" r="133.7" fill="none" stroke="url(#rimB)" stroke-width="5.4" filter="url(#rimblur)"/>
<circle cx="797.1" cy="1516.3" r="135.2" fill="none" stroke="#fff" stroke-opacity="0.65" stroke-width="2.4" filter="url(#rimblur)"/>
<circle cx="797.1" cy="1516.3" r="131.0" fill="#fff"/>
</g>
<g clip-path="url(#w12c)"><g clip-path="url(#w12t)"><g filter="url(#speckA)">
<rect x="640.8" y="1355.3" width="309.0" height="309.5" fill="rgb(118,118,118)"/>
<ellipse cx="730" cy="1447" rx="45" ry="20" transform="rotate(-32 730 1447)" fill="rgb(133,133,133)"/>
<ellipse cx="690" cy="1500" rx="16" ry="50" transform="rotate(5 690 1500)" fill="rgb(125,125,125)"/>
<ellipse cx="880" cy="1440" rx="30" ry="10" transform="rotate(40 880 1440)" fill="rgb(125,125,125)"/>
<ellipse cx="830" cy="1560" rx="60" ry="50" transform="rotate(0 830 1560)" fill="rgb(113,113,113)"/>
<circle cx="797.1" cy="1516.3" r="129.5" fill="none" stroke="rgb(130,130,130)" stroke-opacity="0.8" stroke-width="5"/>
</g></g></g>
<g clip-path="url(#w12t)"><circle cx="797.1" cy="1516.3" r="130.1" fill="none" stroke="#222" stroke-opacity="0.28" stroke-width="2.2"/></g>
<line x1="846.3" x2="915.0" y1="1636.9" y2="1636.9" stroke="#1a1a1a" stroke-width="3.2"/>
</g>
<path d="M120.3,1100.4 H929.8 V1644.8 H120.3 Z M388.4,1100.4 V1644.8 M660.8,1100.4 V1644.8 M120.3,1375.3 H929.8" fill="none" stroke="#1a1a1a" stroke-width="1.1"/>
<text transform="translate(254.50,1070.50) translate(-20.88,0)" font-size="30" fill="#231f20">NT</text>
<text transform="translate(535.00,1070.50) translate(-64.70,0)" font-size="30" fill="#231f20">MLF2 KO</text>
<text transform="translate(792.00,1070.50) translate(-76.37,0)" font-size="30" fill="#231f20">RBM15 KO</text>
<text transform="translate(6.00,1235.00) translate(-1.46,0)" font-size="30" fill="#231f20">+EtOH</text>
<text transform="translate(19.00,1520.50) translate(-1.46,0)" font-size="30" fill="#231f20">+ABA</text>
</g>
<g id="panel_e">
<text transform="translate(1000.10,1051.90) translate(-1.85,0) scale(0.9757,1)" font-size="48.6" font-weight="bold" fill="#231f20">e</text>
<clipPath id="cb1"><rect x="1176.2" y="1086.2" width="252.5" height="86"/></clipPath>
<rect x="1176.2" y="1086.2" width="125.2" height="85" fill="#e2e2e2"/>
<rect x="1301.4" y="1086.2" width="127.3" height="86" fill="#e0e0e0"/>
<g clip-path="url(#cb1)">
<path d="M1199.0,1118.0 Q1240.0,1118.0 1281.0,1118.0" fill="none" stroke="#dcdcdc" stroke-opacity="1" stroke-width="22" stroke-linecap="round" filter="url(#b3)"/>
<path d="M1201.0,1109.3 Q1240.0,1109.3 1279.0,1109.3" fill="none" stroke="#444" stroke-opacity="1" stroke-width="10.0" stroke-linecap="round" filter="url(#b25)"/>
<path d="M1200.0,1110.0 Q1203.0,1110.0 1206.0,1110.0" fill="none" stroke="#222" stroke-opacity="0.35" stroke-width="7" stroke-linecap="round" filter="url(#b25)"/>
<path d="M1274.0,1109.0 Q1277.0,1109.0 1280.0,1109.0" fill="none" stroke="#222" stroke-opacity="0.35" stroke-width="7" stroke-linecap="round" filter="url(#b25)"/>
<path d="M1201.0,1150.0 Q1240.0,1148.4 1279.0,1150.0" fill="none" stroke="#bcbcbc" stroke-opacity="1" stroke-width="8.0" stroke-linecap="round" filter="url(#b2)"/>
<path d="M1322.0,1146.8 Q1360.0,1145.6 1398.0,1146.8" fill="none" stroke="#b7b7b7" stroke-opacity="1" stroke-width="8.0" stroke-linecap="round" filter="url(#b2)"/>
<ellipse cx="1400" cy="1140" rx="4.5" ry="7" fill="#c6c6c6" filter="url(#b15)"/>
<ellipse cx="1403" cy="1171" rx="5" ry="4.5" fill="#c6c6c6" filter="url(#b15)"/>
</g>
<rect x="1176.8" y="1086.8" width="124.6" height="84.4" fill="none" stroke="#1a1a1a" stroke-width="1.2"/>
<rect x="1301.4" y="1086.8" width="126.7" height="85.2" fill="none" stroke="#1a1a1a" stroke-width="1.3"/>
<clipPath id="cb2"><rect x="1176.2" y="1180.2" width="251.8" height="153.4"/></clipPath>
<rect x="1176.2" y="1180.2" width="251.8" height="153.4" fill="#e2e2e2"/>
<g clip-path="url(#cb2)">
<path d="M1200.0,1254.0 Q1245.5,1254.0 1291.0,1254.0" fill="none" stroke="#d9d9d9" stroke-opacity="1" stroke-width="14" stroke-linecap="round" filter="url(#b3)"/>
<path d="M1322.0,1252.0 Q1366.0,1252.0 1410.0,1252.0" fill="none" stroke="#d9d9d9" stroke-opacity="1" stroke-width="14" stroke-linecap="round" filter="url(#b3)"/>
<path d="M1200,1245 Q1245,1245 1290,1242" fill="none" stroke="#5c5c5c" stroke-width="10" stroke-linecap="round" filter="url(#b2)"/>
<path d="M1320,1241.5 Q1365,1243 1410,1240" fill="none" stroke="#565656" stroke-width="10" stroke-linecap="round" filter="url(#b2)"/>
<ellipse cx="1404" cy="1233" rx="6" ry="5" fill="#777" filter="url(#b2)"/>
</g>
<rect x="1176.8" y="1180.8" width="250.6" height="152.2" fill="none" stroke="#1a1a1a" stroke-width="1.2"/>
<line x1="1301.4" x2="1301.4" y1="1180.8" y2="1333" stroke="#1a1a1a" stroke-width="1.2"/>
<clipPath id="cb3"><rect x="1185.1" y="1425.2" width="243.7" height="101.2"/></clipPath>
<linearGradient id="g3" x1="0" x2="1"><stop offset="0" stop-color="#e1e1e1"/><stop offset="1" stop-color="#dbdbdb"/></linearGradient>
<rect x="1185.1" y="1425.2" width="243.7" height="101.2" fill="url(#g3)"/>
<g clip-path="url(#cb3)">
<path d="M1200.0,1429.0 Q1242.5,1429.0 1285.0,1429.0" fill="none" stroke="#d2d2d2" stroke-opacity="1" stroke-width="4" stroke-linecap="round" filter="url(#b2)"/>
<path d="M1318.0,1429.0 Q1356.5,1429.0 1395.0,1429.0" fill="none" stroke="#cdcdcd" stroke-opacity="1" stroke-width="4" stroke-linecap="round" filter="url(#b2)"/>
<path d="M1200.0,1474.0 Q1244.0,1474.0 1288.0,1474.0" fill="none" stroke="#c9c9c9" stroke-opacity="1" stroke-width="8" stroke-linecap="round" filter="url(#b3)"/>
<path d="M1199.0,1463.4 Q1242.5,1458.2 1286.0,1463.4" fill="none" stroke="#505050" stroke-opacity="1" stroke-width="8.0" stroke-linecap="round" filter="url(#b2)"/>
<ellipse cx="1281.5" cy="1462.8" rx="4" ry="1.8" fill="#111" filter="url(#b1)"/>
<path d="M1305.0,1462.5 Q1352.5,1462.5 1400.0,1462.5" fill="none" stroke="#d0d0d0" stroke-opacity="1" stroke-width="5" stroke-linecap="round" filter="url(#b2)"/>
<path d="M1200.0,1508.0 Q1241.0,1508.0 1282.0,1508.0" fill="none" stroke="#d5d5d5" stroke-opacity="1" stroke-width="6" stroke-linecap="round" filter="url(#b3)"/>
<path d="M1318.0,1487.0 Q1356.5,1487.0 1395.0,1487.0" fill="none" stroke="#d7d7d7" stroke-opacity="1" stroke-width="6" stroke-linecap="round" filter="url(#b3)"/>
<circle cx="1215.9" cy="1429.3" r="1.4" fill="#1a1a1a" filter="url(#b05)"/>
<circle cx="1229.3" cy="1469.4" r="0.8" fill="#1a1a1a" filter="url(#b05)"/>
<circle cx="1273.6" cy="1495.3" r="0.9" fill="#1a1a1a" filter="url(#b05)"/>
<circle cx="1291.7" cy="1472.0" r="0.8" fill="#1a1a1a" filter="url(#b05)"/>
<circle cx="1330.5" cy="1449.5" r="0.7" fill="#1a1a1a" filter="url(#b05)"/>
</g>
<rect x="1185.8" y="1425.9" width="242.3" height="99.9" fill="none" stroke="#000" stroke-width="1.4"/>
<clipPath id="cb4"><rect x="1185.1" y="1534.3" width="242.9" height="106.7"/></clipPath>
<rect x="1185.1" y="1534.3" width="242.9" height="106.7" fill="#e2e2e2"/>
<g clip-path="url(#cb4)">
<path d="M1199.0,1607.0 Q1242.5,1607.0 1286.0,1607.0" fill="none" stroke="#cfcfcf" stroke-opacity="1" stroke-width="12" stroke-linecap="round" filter="url(#b2)"/>
<path d="M1313.0,1607.0 Q1355.0,1607.0 1397.0,1607.0" fill="none" stroke="#cdcdcd" stroke-opacity="1" stroke-width="12" stroke-linecap="round" filter="url(#b2)"/>
<path d="M1199.0,1591.5 Q1243.0,1591.5 1287.0,1591.5" fill="none" stroke="#484848" stroke-opacity="1" stroke-width="13.5" stroke-linecap="round" filter="url(#b2)"/>
<path d="M1308.0,1592.5 Q1353.0,1593.5 1398.0,1592.5" fill="none" stroke="#4a4a4a" stroke-opacity="1" stroke-width="12.5" stroke-linecap="round" filter="url(#b2)"/>
<ellipse cx="1304" cy="1587.5" rx="5" ry="4" fill="#2a2a2a" filter="url(#b15)"/>
<ellipse cx="1397.5" cy="1584.5" rx="5" ry="4.5" fill="#3a3a3a" filter="url(#b15)"/>
<ellipse cx="1400" cy="1593" rx="4.5" ry="3.5" fill="#333" filter="url(#b15)"/>
<ellipse cx="1292" cy="1592.5" rx="2.5" ry="3" fill="#222" filter="url(#b1)"/>
</g>
<rect x="1185.8" y="1535" width="241.5" height="105.4" fill="none" stroke="#000" stroke-width="1.4"/>
<line x1="1147.8" x2="1172.5" y1="1147.1" y2="1147.1" stroke="#000" stroke-width="3.3"/>
<line x1="1147.8" x2="1172.5" y1="1207.0" y2="1207.0" stroke="#000" stroke-width="3.3"/>
<line x1="1147.8" x2="1172.5" y1="1303.2" y2="1303.2" stroke="#000" stroke-width="3.3"/>
<line x1="1157.2" x2="1181.7" y1="1447.6" y2="1447.6" stroke="#000" stroke-width="3.3"/>
<line x1="1157.2" x2="1181.7" y1="1503.1" y2="1503.1" stroke="#000" stroke-width="3.3"/>
<line x1="1157.2" x2="1181.7" y1="1609.4" y2="1609.4" stroke="#000" stroke-width="3.3"/>
<text transform="translate(1098.90,1058.00) translate(-1.69,0) scale(1.0006,1)" font-size="25" fill="#000">kDa</text>
<text transform="translate(1224.40,1058.00) translate(-2.48,0) scale(1.0097,1)" font-size="30" fill="#231f20">NT</text>
<text transform="translate(1306.40,1040.60) translate(-2.52,0) scale(1.0237,1)" font-size="30" fill="#231f20">RBM15</text>
<text transform="translate(1334.80,1075.40) translate(-2.61,0) scale(1.0596,1)" font-size="30" fill="#231f20">KO</text>
<text transform="translate(1445.30,1128.20) translate(-2.52,0) scale(1.0237,1)" font-size="30" fill="#231f20">RBM15</text>
<text transform="translate(1445.30,1257.20) translate(-2.53,0) scale(1.0287,1)" font-size="30" fill="#231f20">B-ACTIN</text>
<text transform="translate(1102.30,1155.00) translate(-1.85,0) scale(0.9735,1)" font-size="25" fill="#000">100</text>
<text transform="translate(1106.90,1213.60) translate(-1.01,0) scale(1.0056,1)" font-size="25" fill="#000">55</text>
<text transform="translate(1106.90,1313.40) translate(-0.96,0) scale(1.0036,1)" font-size="25" fill="#000">35</text>
<text transform="translate(1113.60,1403.20) translate(-1.71,0) scale(1.0123,1)" font-size="25" fill="#000">kDa</text>
<text transform="translate(1240.20,1401.00) translate(-2.49,0) scale(1.0125,1)" font-size="30" fill="#231f20">NT</text>
<text transform="translate(1327.20,1383.60) translate(-2.53,0) scale(1.0287,1)" font-size="30" fill="#231f20">MLF2</text>
<text transform="translate(1344.00,1418.40) translate(-2.61,0) scale(1.0596,1)" font-size="30" fill="#231f20">KO</text>
<text transform="translate(1445.30,1485.90) translate(-2.56,0) scale(1.0410,1)" font-size="30" fill="#231f20">MLF2</text>
<text transform="translate(1445.30,1601.50) translate(-1.54,0) scale(1.0192,1)" font-size="30" fill="#231f20">GAPDH</text>
<text transform="translate(1122.70,1454.40) translate(-0.94,0) scale(0.9843,1)" font-size="25" fill="#000">35</text>
<text transform="translate(1122.70,1513.90) translate(-1.25,0) scale(0.9961,1)" font-size="25" fill="#000">25</text>
<text transform="translate(1122.70,1617.10) translate(-0.94,0) scale(0.9843,1)" font-size="25" fill="#000">35</text>
</g>
<g id="panel_f">
<text transform="translate(1605.40,1051.40) translate(-0.83,0) scale(0.9969,1)" font-size="48.6" font-weight="bold" fill="#231f20">f</text>
<text transform="translate(1763.30,1113.00) translate(-0.07,0) scale(0.9970,1)" font-size="35" fill="#231f20">ATPlite assay</text>
<rect x="1747.7" y="1450.4" width="47.0" height="170.6" fill="#b2b2dc" stroke="#00008B" stroke-width="1.4"/>
<path d="M1771.2,1447.3 V1454.2 M1765.1,1447.3 h12.2 M1765.1,1454.2 h12.2" stroke="#00008B" stroke-width="1.3" fill="none"/>
<circle cx="1771.2" cy="1436.0" r="3.15" fill="#00008B"/>
<circle cx="1771.2" cy="1445.8" r="3.15" fill="#00008B"/>
<circle cx="1771.2" cy="1449.5" r="3.15" fill="#00008B"/>
<circle cx="1771.2" cy="1453.0" r="3.15" fill="#00008B"/>
<circle cx="1771.2" cy="1456.5" r="3.15" fill="#00008B"/>
<circle cx="1771.2" cy="1459.0" r="3.15" fill="#00008B"/>
<circle cx="1771.2" cy="1461.2" r="3.15" fill="#00008B"/>
<rect x="1806.5" y="1438.8" width="47.0" height="182.2" fill="#dfd4f4" stroke="#9370DB" stroke-width="1.4"/>
<path d="M1830.0,1435.8 V1441.5 M1823.9,1435.8 h12.2 M1823.9,1441.5 h12.2" stroke="#9370DB" stroke-width="1.3" fill="none"/>
<circle cx="1830.0" cy="1427.8" r="3.15" fill="#9370DB"/>
<circle cx="1830.0" cy="1435.6" r="3.15" fill="#9370DB"/>
<circle cx="1830.0" cy="1439.5" r="3.15" fill="#9370DB"/>
<circle cx="1830.0" cy="1443.0" r="3.15" fill="#9370DB"/>
<circle cx="1830.0" cy="1446.5" r="3.15" fill="#9370DB"/>
<circle cx="1830.0" cy="1449.3" r="3.15" fill="#9370DB"/>
<rect x="1865.2" y="1289.1" width="47.0" height="331.9" fill="#f2bce0" stroke="#D21F96" stroke-width="1.4"/>
<path d="M1888.7,1279.5 V1298.9 M1882.6,1279.5 h12.2 M1882.6,1298.9 h12.2" stroke="#D21F96" stroke-width="1.3" fill="none"/>
<circle cx="1888.7" cy="1264.1" r="3.15" fill="#D21F96"/>
<circle cx="1888.7" cy="1274.2" r="3.15" fill="#D21F96"/>
<circle cx="1888.7" cy="1280.7" r="3.15" fill="#D21F96"/>
<circle cx="1888.7" cy="1305.4" r="3.15" fill="#D21F96"/>
<circle cx="1888.7" cy="1329.2" r="3.15" fill="#D21F96"/>
<rect x="1924.1" y="1284.2" width="47.0" height="336.8" fill="#ffe9ec" stroke="#FFB6C1" stroke-width="1.4"/>
<path d="M1947.6,1276.5 V1291.5 M1941.5,1276.5 h12.2 M1941.5,1291.5 h12.2" stroke="#FFB6C1" stroke-width="1.3" fill="none"/>
<circle cx="1947.6" cy="1256.3" r="3.15" fill="#FFB6C1"/>
<circle cx="1947.6" cy="1275.8" r="3.15" fill="#FFB6C1"/>
<circle cx="1947.6" cy="1280.0" r="3.15" fill="#FFB6C1"/>
<circle cx="1947.6" cy="1287.0" r="3.15" fill="#FFB6C1"/>
<circle cx="1947.6" cy="1295.4" r="3.15" fill="#FFB6C1"/>
<circle cx="1947.6" cy="1310.7" r="3.15" fill="#FFB6C1"/>
<path d="M1736.5,1147 V1621.0 M1728.7,1621.0 H1982.8" fill="none" stroke="#222" stroke-width="1.6"/>
<text transform="translate(1720.90,1629.40) translate(-34.45,0)" font-size="25.5" fill="#000">0.0</text>
<line x1="1728.7" x2="1736.5" y1="1502.5" y2="1502.5" stroke="#333" stroke-width="1.3"/>
<text transform="translate(1720.90,1510.90) translate(-34.17,0)" font-size="25.5" fill="#000">0.2</text>
<line x1="1728.7" x2="1736.5" y1="1384.0" y2="1384.0" stroke="#333" stroke-width="1.3"/>
<text transform="translate(1720.90,1392.40) translate(-34.70,0)" font-size="25.5" fill="#000">0.4</text>
<line x1="1728.7" x2="1736.5" y1="1265.5" y2="1265.5" stroke="#333" stroke-width="1.3"/>
<text transform="translate(1720.90,1273.90) translate(-34.33,0)" font-size="25.5" fill="#000">0.6</text>
<line x1="1728.7" x2="1736.5" y1="1147.0" y2="1147.0" stroke="#333" stroke-width="1.3"/>
<text transform="translate(1720.90,1155.40) translate(-34.34,0)" font-size="25.5" fill="#000">0.8</text>
<line x1="1771.2" x2="1771.2" y1="1621.0" y2="1628.5" stroke="#333" stroke-width="1.3"/>
<line x1="1830.0" x2="1830.0" y1="1621.0" y2="1628.5" stroke="#333" stroke-width="1.3"/>
<line x1="1888.7" x2="1888.7" y1="1621.0" y2="1628.5" stroke="#333" stroke-width="1.3"/>
<line x1="1947.6" x2="1947.6" y1="1621.0" y2="1628.5" stroke="#333" stroke-width="1.3"/>
<text transform="translate(1771.30,1652.50) translate(-17.40,0)" font-size="25" fill="#231f20">DT</text>
<text transform="translate(1825.00,1652.50) translate(-17.40,0)" font-size="25" fill="#231f20">NT</text>
<text transform="translate(1848.80,1652.50) translate(-2.06,0) scale(1.0067,1)" font-size="25" fill="#231f20">RBM15</text>
<text transform="translate(1937.20,1652.50) translate(-2.03,0) scale(0.9902,1)" font-size="25" fill="#231f20">MLF2</text>
<text transform="translate(1673.50,1384.00) rotate(-90) translate(-166.77,0)" font-size="30.5" fill="#231f20">Cell viability (ABA/EtOH)</text>
<text transform="translate(1831.70,1197.43) translate(-0.36,0)" font-size="22.5" fill="#000">*</text>
<text transform="translate(1846.70,1194.90) translate(-1.64,0) scale(1.0162,1)" font-size="25" fill="#000">p = 4.4e-7</text>
<line x1="1831" x2="1948.9" y1="1202.9" y2="1202.9" stroke="#000" stroke-width="1.6"/>
<text transform="translate(1831.00,1233.33) translate(-0.36,0)" font-size="22.5" fill="#000">*</text>
<text transform="translate(1846.00,1230.80) translate(-1.62,0) scale(1.0039,1)" font-size="25" fill="#000">p = 6.3e-6</text>
<line x1="1830.3" x2="1893.8" y1="1237.7" y2="1237.7" stroke="#000" stroke-width="1.6"/>
<text transform="translate(1744.90,1405.43) translate(-0.36,0)" font-size="22.5" fill="#000">*</text>
<text transform="translate(1760.20,1402.90) translate(-1.61,0) scale(0.9988,1)" font-size="25" fill="#000">p = 0.04</text>
<line x1="1771.1" x2="1830.4" y1="1411.9" y2="1411.9" stroke="#000" stroke-width="1.6"/>
</g>
</svg>
</body></html>
